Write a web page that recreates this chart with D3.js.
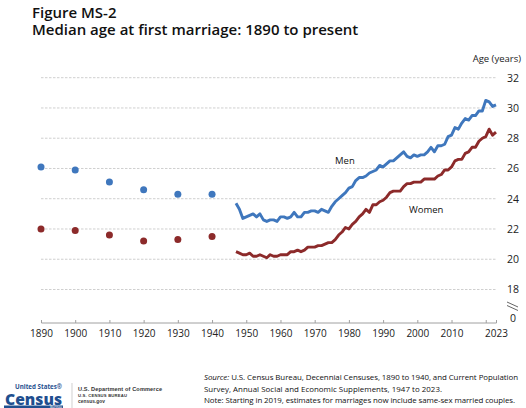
<!DOCTYPE html>
<html lang="en">
<head>
<meta charset="UTF-8">
<title>Figure MS-2</title>
<script src="https://cdnjs.cloudflare.com/ajax/libs/d3/7.8.5/d3.min.js"></script>
<style>
  body { margin: 0; background: #fff; }
  svg { display: block; font-family: "Open Sans", sans-serif; }
  .grid line { stroke: #cfcfcf; stroke-dasharray: 2.5 1.5; }
  .x-axis path, .x-axis line { stroke: #a0a0a0; }
  .x-axis text { font-size: 10px; fill: #222; font-family: "Open Sans", sans-serif; }
  .y-label { font-size: 10.5px; fill: #222; }
  .title { font-size: 15px; font-weight: 600; fill: #111; }
</style>
</head>
<body>
<svg id="chart" width="526" height="408"></svg>
<script>
// decennial census points
const censusYears = [1890, 1900, 1910, 1920, 1930, 1940];
const censusMen   = [26.1, 25.9, 25.1, 24.6, 24.3, 24.3];
const censusWomen = [22.0, 21.9, 21.6, 21.2, 21.3, 21.5];

// CPS annual series, 1947 to 2023
const cpsYears = [1947,1948,1949,1950,1951,1952,1953,1954,1955,1956,1957,1958,1959,
  1960,1961,1962,1963,1964,1965,1966,1967,1968,1969,1970,1971,1972,1973,1974,1975,
  1976,1977,1978,1979,1980,1981,1982,1983,1984,1985,1986,1987,1988,1989,1990,1991,
  1992,1993,1994,1995,1996,1997,1998,1999,2000,2001,2002,2003,2004,2005,2006,2007,
  2008,2009,2010,2011,2012,2013,2014,2015,2016,2017,2018,2019,2020,2021,2022,2023];
const cpsMen = [23.7,23.3,22.7,22.8,22.9,23.0,22.8,23.0,22.6,22.5,22.6,22.6,22.5,
  22.8,22.8,22.7,22.8,23.1,22.8,22.8,23.1,23.1,23.2,23.2,23.1,23.3,23.2,23.1,23.5,
  23.8,24.0,24.2,24.4,24.7,24.8,25.2,25.4,25.4,25.5,25.7,25.8,25.9,26.2,26.1,26.3,
  26.5,26.5,26.7,26.9,27.1,26.8,26.7,26.9,26.8,26.9,26.9,27.1,27.4,27.1,27.5,27.5,
  27.6,28.1,28.2,28.7,28.6,29.0,29.3,29.2,29.5,29.5,29.8,29.8,30.5,30.4,30.1,30.2];
const cpsWomen = [20.5,20.4,20.3,20.3,20.4,20.2,20.2,20.3,20.2,20.1,20.3,20.2,20.2,
  20.3,20.3,20.3,20.5,20.5,20.6,20.5,20.6,20.8,20.8,20.8,20.9,20.9,21.0,21.1,21.1,
  21.3,21.6,21.8,22.1,22.0,22.3,22.5,22.8,23.0,23.3,23.1,23.6,23.6,23.8,23.9,24.1,
  24.4,24.5,24.5,24.5,24.8,25.0,25.0,25.1,25.1,25.1,25.3,25.3,25.3,25.3,25.5,25.6,
  25.9,25.9,26.1,26.5,26.6,26.6,27.0,27.1,27.4,27.4,27.8,28.0,28.1,28.6,28.2,28.4];

const yTicks = [18, 20, 22, 24, 26, 28, 30, 32];
const xTicks = [1890,1900,1910,1920,1930,1940,1950,1960,1970,1980,1990,2000,2010,2020,2023];

const menColor = "#3f77bd";
const womenColor = "#8c2a2a";

const svg = d3.select("#chart");

const x = d3.scaleLinear().domain([1890, 2023]).range([41, 496]);
const y = d3.scaleLinear().domain([18, 32]).range([289.5, 77.7]);
const axisY = 322.5;

// titles
svg.append("text").attr("class", "title").attr("x", 32).attr("y", 17.5)
  .text("Figure MS-2");
svg.append("text").attr("class", "title").attr("x", 32).attr("y", 34.5)
  .text("Median age at first marriage: 1890 to present");

// gridlines
svg.append("g").attr("class", "grid")
  .selectAll("line").data(yTicks).join("line")
  .attr("x1", x(1890)).attr("x2", x(2023))
  .attr("y1", d => y(d)).attr("y2", d => y(d));

// y labels on the right
svg.append("g").selectAll("text").data(yTicks).join("text")
  .attr("class", "y-label")
  .attr("x", 513).attr("y", d => y(d) + 3.8)
  .attr("text-anchor", "middle")
  .text(d => d);
svg.append("text").attr("class", "y-label")
  .attr("x", 513).attr("y", axisY - 1)
  .attr("text-anchor", "middle").text("0");
// axis break marks
svg.append("g").selectAll("line").data([0, 3.5]).join("line")
  .attr("x1", 507).attr("x2", 518)
  .attr("y1", d => 302 + d).attr("y2", d => 307 + d)
  .attr("stroke", "#555").attr("stroke-width", 0.9);
svg.append("text").attr("x", 521).attr("y", 62)
  .attr("text-anchor", "end")
  .style("font-size", "9.5px").attr("fill", "#222")
  .text("Age (years)");

// x axis
const xAxis = d3.axisBottom(x)
  .tickValues(xTicks)
  .tickSize(2.5)
  .tickSizeOuter(0)
  .tickPadding(5)
  .tickFormat(d => d === 2020 ? "" : d);
const gx = svg.append("g").attr("class", "x-axis")
  .attr("transform", `translate(0,${axisY})`)
  .call(xAxis);
gx.selectAll(".tick line").attr("y1", -2.5).attr("y2", 0.5);

// lines
const line = d3.line().x(d => x(d[0])).y(d => y(d[1]));
svg.append("path")
  .datum(cpsYears.map((yr, i) => [yr, cpsMen[i]]))
  .attr("d", line).attr("fill", "none")
  .attr("stroke", menColor).attr("stroke-width", 2.9).attr("stroke-linejoin", "round");
svg.append("path")
  .datum(cpsYears.map((yr, i) => [yr, cpsWomen[i]]))
  .attr("d", line).attr("fill", "none")
  .attr("stroke", womenColor).attr("stroke-width", 2.9).attr("stroke-linejoin", "round");

// census dots
svg.append("g").selectAll("circle").data(censusYears).join("circle")
  .attr("cx", d => x(d)).attr("cy", (d, i) => y(censusMen[i]))
  .attr("r", 3.5).attr("fill", menColor);
svg.append("g").selectAll("circle").data(censusYears).join("circle")
  .attr("cx", d => x(d)).attr("cy", (d, i) => y(censusWomen[i]))
  .attr("r", 3.5).attr("fill", womenColor);

// series labels
svg.append("text").attr("x", 335).attr("y", 164)
  .style("font-size", "9.5px").attr("fill", "#111").text("Men");
svg.append("text").attr("x", 409).attr("y", 213)
  .style("font-size", "9.5px").attr("fill", "#111").text("Women");

// footer notes
const notes = svg.append("text")
  .style("font-size", "7.9px").attr("fill", "#111");
const l1 = notes.append("tspan").attr("x", 204).attr("y", 380).attr("textLength", 314);
l1.append("tspan").style("font-style", "italic").text("Source:");
l1.append("tspan").text(" U.S. Census Bureau, Decennial Censuses, 1890 to 1940, and Current Population");
notes.append("tspan").attr("x", 204).attr("y", 391.5).attr("textLength", 238)
  .text("Survey, Annual Social and Economic Supplements, 1947 to 2023.");
notes.append("tspan").attr("x", 204).attr("y", 403).attr("textLength", 311)
  .text("Note: Starting in 2019, estimates for marriages now include same-sex married couples.");

// census logo
const logoBlue = "#1f4f8f";
const logo = svg.append("g");
logo.append("text").attr("x", 62).attr("y", 389).attr("text-anchor", "end")
  .attr("textLength", 47).attr("lengthAdjust", "spacingAndGlyphs")
  .style("font-size", "6.3px").style("font-weight", 700).attr("fill", logoBlue)
  .text("United States\u00AE");
logo.append("text").attr("x", 62).attr("y", 404.5).attr("text-anchor", "end")
  .attr("textLength", 57).attr("lengthAdjust", "spacingAndGlyphs")
  .style("font-size", "16px").style("font-weight", 800).attr("fill", logoBlue)
  .text("Census");
logo.append("rect").attr("x", 4).attr("y", 405.5).attr("width", 59).attr("height", 3).attr("fill", logoBlue);
logo.append("text").attr("x", 62).attr("y", 408).attr("text-anchor", "end")
  .style("font-size", "3.5px").attr("fill", "#fff").text("Bureau");
logo.append("line").attr("x1", 72).attr("x2", 72).attr("y1", 383).attr("y2", 408)
  .attr("stroke", "#bbb").attr("stroke-width", 0.7);
const dept = svg.append("g").attr("fill", "#333").style("font-family", "'Liberation Sans', sans-serif")
  .style("font-weight", 700);
dept.append("text").attr("x", 78).attr("y", 391).style("font-size", "5.6px")
  .attr("textLength", 84).text("U.S. Department of Commerce");
dept.append("text").attr("x", 78).attr("y", 397).style("font-size", "4.2px")
  .attr("textLength", 49).text("U.S. CENSUS BUREAU");
dept.append("text").attr("x", 78).attr("y", 403).style("font-size", "4.8px")
  .attr("textLength", 27).text("census.gov");
</script>
</body>
</html>
